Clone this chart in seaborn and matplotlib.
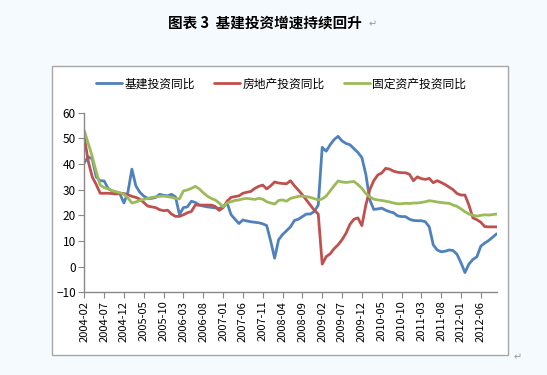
import numpy as np
import pandas as pd
import matplotlib
matplotlib.use('Agg')
import matplotlib.pyplot as plt
import seaborn as sns
from matplotlib.patches import Rectangle

# monthly data 2004-02 .. 2012-10
months = pd.period_range('2004-02', '2012-10', freq='M').strftime('%Y-%m').tolist()

infra = [40.5, 42.8, 42.0, 35.0, 33.5, 33.4, 30.5, 29.5, 29.0, 28.3,
         24.8, 29.0, 38.0, 31.5, 29.0, 27.5, 26.6, 26.6, 27.0, 28.2,
         27.8, 27.6, 28.2, 27.2, 20.3, 23.0, 23.3, 25.5, 25.0, 24.0,
         23.6, 23.3, 23.1, 22.9, 22.7, 23.3, 24.9, 20.3, 18.5, 16.8,
         18.2, 17.8, 17.5, 17.3, 17.1, 16.7, 16.0, 10.0, 3.3, 10.5,
         12.5, 14.0, 15.5, 18.0, 18.5, 19.5, 20.5, 20.5, 21.5, 24.0,
         46.5, 45.0, 47.5, 49.5, 50.8, 49.0, 48.0, 47.5, 46.0, 44.5,
         42.5, 36.0, 26.0, 22.3, 22.5, 22.8, 22.0, 21.4, 21.0, 19.8,
         19.5, 19.5, 18.5, 18.0, 17.9, 17.9, 17.5, 15.5, 8.5, 6.5,
         5.8, 6.0, 6.5, 6.3, 4.8, 1.5, -2.3, 1.0, 2.8, 3.8,
         8.0, 9.2, 10.2, 11.5, 12.8]

estate = [50.5, 41.0, 35.0, 32.0, 28.6, 28.6, 28.6, 28.5, 28.3, 28.6,
          28.5, 28.0, 27.4, 27.0, 26.3, 25.0, 23.6, 23.3, 23.0, 22.2,
          21.8, 22.0, 20.5, 19.6, 19.6, 20.2, 21.0, 21.5, 24.0, 24.0,
          24.0, 24.0, 24.0, 23.5, 21.9, 23.0, 25.5, 27.0, 27.3, 27.6,
          28.6, 29.0, 29.3, 30.5, 31.3, 31.8, 30.3, 31.5, 33.0, 32.6,
          32.4, 32.3, 33.5, 31.5, 29.8, 28.0, 26.0, 24.0, 22.0, 20.5,
          1.0, 3.9, 5.0, 7.0, 8.5, 10.5, 13.0, 16.5, 18.5, 19.0,
          16.0, 24.0, 30.0, 33.5, 35.7, 36.5, 38.3, 38.0, 37.2, 36.8,
          36.6, 36.6, 36.0, 33.5, 35.0, 34.3, 34.0, 34.4, 32.7, 33.5,
          32.8, 32.0, 31.0, 30.0, 28.5, 27.9, 27.9, 24.0, 19.0, 18.3,
          17.3, 15.6, 15.5, 15.5, 15.5]

fixed = [53.0, 48.0, 43.0, 37.0, 31.8, 30.8, 30.3, 29.6, 29.2, 28.8,
         28.2, 26.8, 24.8, 25.2, 25.8, 26.2, 26.6, 27.0, 27.2, 27.4,
         27.5, 27.3, 27.0, 26.6, 26.4, 29.5, 29.9, 30.5, 31.3, 30.3,
         28.8, 27.5, 26.6, 26.0, 24.8, 23.3, 24.8, 25.3, 25.8, 26.0,
         26.4, 26.6, 26.4, 26.2, 26.6, 26.3, 25.3, 24.8, 24.4, 25.8,
         26.0, 25.5, 26.6, 27.0, 27.4, 27.5, 27.3, 27.0, 26.5, 26.0,
         26.4, 27.5, 29.5, 31.5, 33.4, 33.0, 32.8, 33.0, 33.2, 32.0,
         30.5, 28.5, 27.2, 26.3, 26.0, 25.8, 25.5, 25.2, 24.8, 24.5,
         24.5, 24.7, 24.6, 24.8, 24.8, 25.0, 25.3, 25.7, 25.5, 25.2,
         25.0, 24.8, 24.7, 24.0, 23.5, 22.5, 21.4, 20.5, 20.0, 19.7,
         20.0, 20.2, 20.1, 20.3, 20.5]

names = ['基建投资同比', '房地产投资同比', '固定资产投资同比']
colors = ['#4F81BD', '#C0504D', '#9BBB59']

df = pd.DataFrame({'idx': range(len(months)), names[0]: infra, names[1]: estate, names[2]: fixed})
long = df.melt(id_vars='idx', var_name='series', value_name='value')

sns.set_style('white')
plt.rcParams['font.family'] = ['Noto Sans CJK SC', 'DejaVu Sans']
plt.rcParams['text.color'] = 'black'

fig = plt.figure(figsize=(5.47, 3.75), dpi=100)
fig.patch.set_facecolor('#F5FAFE')

# chart frame, drawn under the axes
fig.patches.append(Rectangle((0.0951, 0.0533), 0.8336, 0.7715, transform=fig.transFigure,
                             facecolor='white', edgecolor='#A6A6A6', linewidth=1, zorder=-10))

ax = fig.add_axes([0.1541, 0.2205, 0.7539, 0.479])
ax.set_facecolor('none')
sns.lineplot(data=long, x='idx', y='value', hue='series', hue_order=names,
             palette=colors, linewidth=2.0, ax=ax, legend=False)

ax.set_xlim(0, len(months) - 1)
ax.set_ylim(-10, 60)
ax.set_yticks(range(-10, 61, 10))
ax.set_xticks(range(0, len(months), 5))
ax.set_xticklabels([months[i] for i in range(0, len(months), 5)], rotation=90, fontsize=8)
ax.tick_params(axis='y', labelsize=8.5, length=4, direction='out', color='#888888',
               labelcolor='black', pad=2)
ax.tick_params(axis='x', length=4, direction='out', color='#888888', labelcolor='black', pad=2)
ax.tick_params(left=True, bottom=True)
ax.set_xlabel('')
ax.set_ylabel('')
for s in ['top', 'right']:
    ax.spines[s].set_visible(False)
for s in ['left', 'bottom']:
    ax.spines[s].set_color('#888888')
    ax.spines[s].set_linewidth(1)

handles = [plt.Line2D([], [], color=c, linewidth=2.0) for c in colors]
fig.legend(handles, names, loc='center', bbox_to_anchor=(0.514, 0.776), ncol=3,
           frameon=False, fontsize=8.5, handlelength=2.2, handletextpad=0.2, columnspacing=1.6)

fig.text(0.484, 0.939, '图表 3  基建投资增速持续回升', ha='center', va='center',
         fontsize=10.5, fontweight='bold', color='black')
fig.text(0.673, 0.934, '↵', ha='left', va='center', fontsize=7, color='#999999',
         family=['DejaVu Sans'])
fig.text(0.938, 0.046, '↵', ha='left', va='center', fontsize=7, color='#999999',
         family=['DejaVu Sans'])

fig.savefig('out.png', dpi=100, facecolor=fig.get_facecolor())
